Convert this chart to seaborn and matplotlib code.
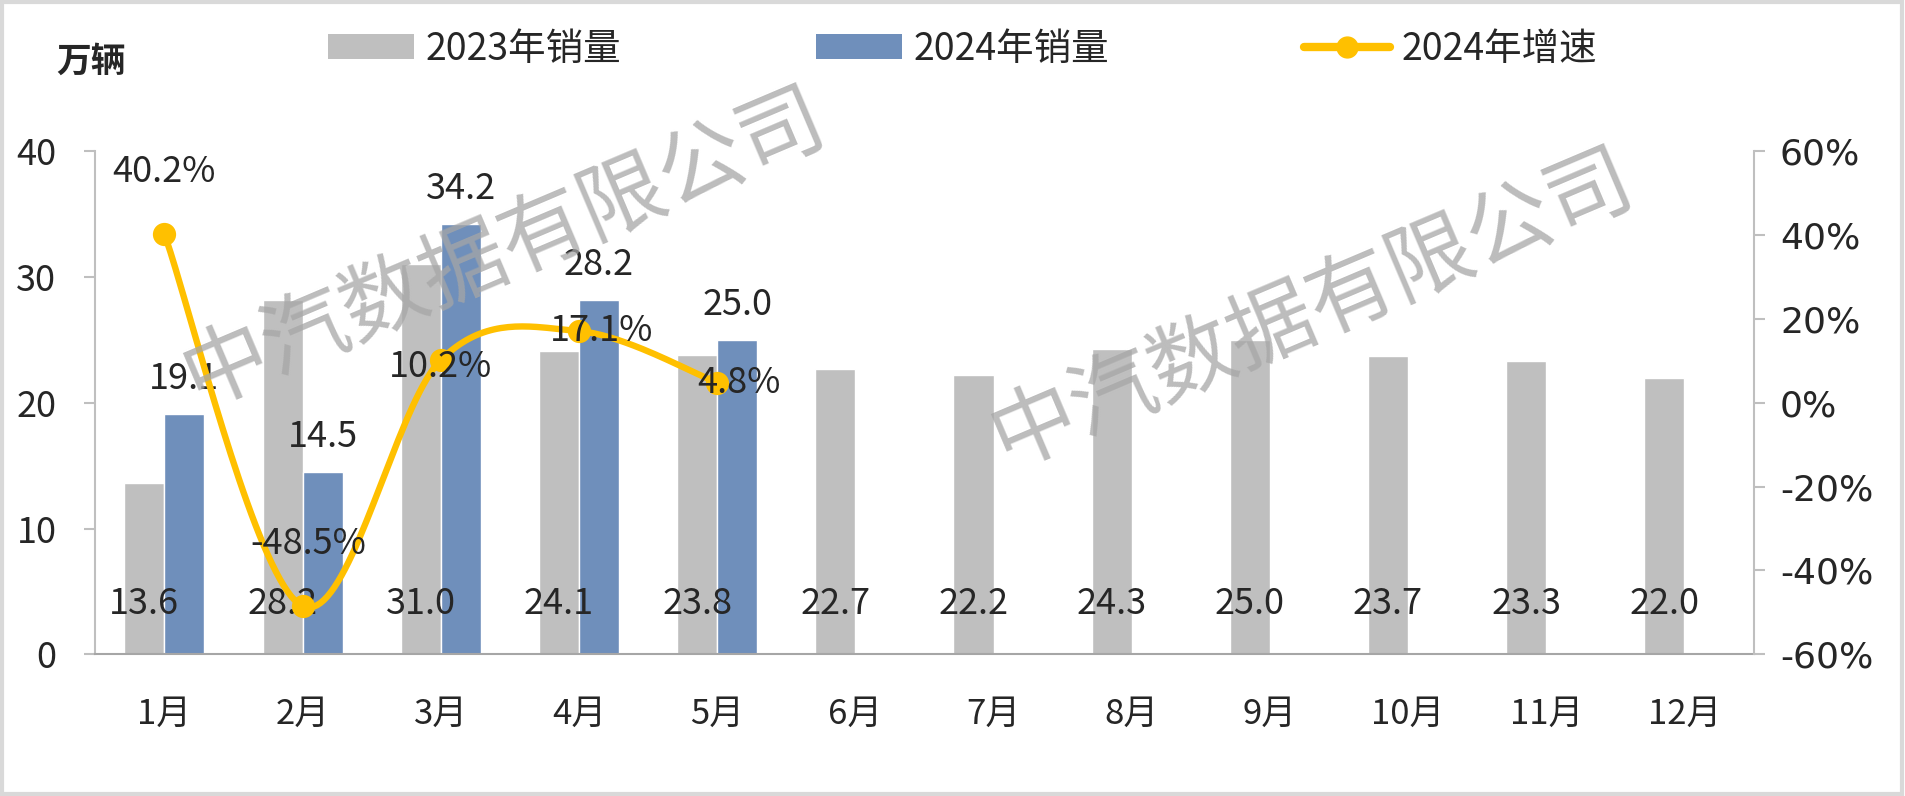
import numpy as np
import pandas as pd
import matplotlib
import matplotlib.pyplot as plt
import seaborn as sns
from matplotlib.patches import Patch, Rectangle
from matplotlib.lines import Line2D
from matplotlib.ticker import FuncFormatter

matplotlib.use('agg')

months = ['1月', '2月', '3月', '4月', '5月', '6月', '7月', '8月', '9月', '10月', '11月', '12月']
sales_2023 = [13.6, 28.2, 31.0, 24.1, 23.8, 22.7, 22.2, 24.3, 25.0, 23.7, 23.3, 22.0]
sales_2024 = [19.1, 14.5, 34.2, 28.2, 25.0]
growth_2024 = [40.2, -48.5, 10.2, 17.1, 4.8]
series_names = ['2023年销量', '2024年销量', '2024年增速']

gray = '#BFBFBF'
blue = '#6F8FBB'
yellow = '#FFC000'

sns.set_style('white')
plt.rcParams['font.family'] = ['Noto Sans CJK SC', 'DejaVu Sans']

rows = []
for m, v in zip(months, sales_2023):
    rows.append({'month': m, 'year': series_names[0], 'value': v})
for m, v in zip(months, sales_2024):
    rows.append({'month': m, 'year': series_names[1], 'value': v})
df = pd.DataFrame(rows)

fig = plt.figure(figsize=(19.06, 7.96), dpi=100)
ax = fig.add_axes([0.050, 0.178, 0.870, 0.632])

sns.barplot(data=df, x='month', y='value', hue='year', order=months,
            hue_order=series_names[:2], palette=[gray, blue], width=0.58,
            saturation=1, errorbar=None, legend=False, ax=ax)

ax.set_xlim(-0.5, 11.5)
ax.set_ylim(0, 40)
ax.set_yticks([0, 10, 20, 30, 40])
ax.set_xlabel('')
ax.set_ylabel('')
for s in ['top', 'right']:
    ax.spines[s].set_visible(False)
ax.spines['left'].set_color('#BFBFBF')
ax.spines['bottom'].set_color('#A6A6A6')
ax.spines['left'].set_linewidth(1.5)
ax.spines['bottom'].set_linewidth(1.5)
ax.tick_params(axis='y', which='both', left=True, length=8, width=1.5, color='#BFBFBF',
               labelsize=26, pad=20)
ax.tick_params(axis='x', bottom=False, labelsize=25, pad=27)

# bar labels
for bar, v in zip(ax.containers[0], sales_2023):
    ax.text(bar.get_x() + bar.get_width() / 2, 4.0, f'{v:.1f}', ha='center', va='center',
            fontsize=26, zorder=5)
bars24 = [b for b in ax.containers[1] if not np.isnan(b.get_height()) and b.get_height() > 0]
for bar, v in zip(bars24, sales_2024):
    ax.annotate(f'{v:.1f}', (bar.get_x() + bar.get_width() / 2, v), xytext=(0, 25),
                textcoords='offset points', ha='center', va='center', fontsize=26, zorder=5)

# growth line (smoothed like Excel)
ax2 = ax.twinx()
xs = np.arange(len(growth_2024), dtype=float)
ys = np.array(growth_2024, dtype=float)
px = np.concatenate([[xs[0]], xs, [xs[-1]]])
py = np.concatenate([[ys[0]], ys, [ys[-1]]])
cx, cy = [], []
t = np.linspace(0, 1, 40)
for i in range(1, len(px) - 2):
    p0, p1, p2, p3 = (px[i - 1], py[i - 1]), (px[i], py[i]), (px[i + 1], py[i + 1]), (px[i + 2], py[i + 2])
    for k, lst in ((0, cx), (1, cy)):
        a0, a1, a2, a3 = p0[k], p1[k], p2[k], p3[k]
        b1 = a1 + (a2 - a0) / 6
        b2 = a2 - (a3 - a1) / 6
        lst.extend((1 - t) ** 3 * a1 + 3 * (1 - t) ** 2 * t * b1 + 3 * (1 - t) * t ** 2 * b2 + t ** 3 * a2)
ax2.plot(cx, cy, color=yellow, lw=4.6, solid_capstyle='round', zorder=3)
sns.scatterplot(x=xs, y=ys, color=yellow, s=280, edgecolor=yellow, linewidth=0, zorder=4, ax=ax2)

ax2.set_ylim(-60, 60)
ax2.set_yticks(np.arange(-60, 61, 20))
ax2.yaxis.set_major_formatter(FuncFormatter(lambda v, p: f'{v:.0f}%'))
for s in ['top', 'left', 'bottom']:
    ax2.spines[s].set_visible(False)
ax2.spines['right'].set_color('#BFBFBF')
ax2.spines['right'].set_linewidth(1.5)
ax2.tick_params(axis='y', right=True, length=8, width=1.5, color='#BFBFBF', labelsize=26, pad=11)
for lab in ax2.get_yticklabels():
    lab.set_fontfamily('DejaVu Sans')

label_offsets = [(0, 45), (4, 45), (0, -5), (16, 0), (16, 0)]
for x, y, off in zip(xs, ys, label_offsets):
    ax2.annotate(f'{y:.1f}%', (x, y), xytext=off, textcoords='offset points',
                 ha='center', va='center', fontsize=26, zorder=6)

# axis unit title
fig.text(91 / 1906, 1 - 61 / 796, '万辆', ha='center', va='center', fontsize=25, fontweight='bold')

# legend
handles = [Patch(facecolor=gray, edgecolor='none'),
           Patch(facecolor=blue, edgecolor='none'),
           Line2D([0], [0], color=yellow, lw=6, marker='o', markersize=15)]
fig.legend(handles, series_names, loc='center left', bbox_to_anchor=(0.172, 0.938), ncol=3,
           frameon=False, fontsize=27, handlelength=2.3, handleheight=0.65, handletextpad=0.3,
           columnspacing=5.2, borderpad=0, borderaxespad=0)

# watermark
for (wx, wy) in [(505, 249), (1313, 310)]:
    fig.text(wx / 1906, 1 - wy / 796, '中汽数据有限公司', ha='center', va='center', rotation=23,
             fontsize=62, color='#A6A6A6', alpha=0.75, fontweight='light')

fig.patches.append(Rectangle((0.001, 0.002), 0.997, 0.995, transform=fig.transFigure,
                             fill=False, edgecolor='#D9D9D9', lw=3))

fig.savefig('out.png', dpi=100)
plt.close()
